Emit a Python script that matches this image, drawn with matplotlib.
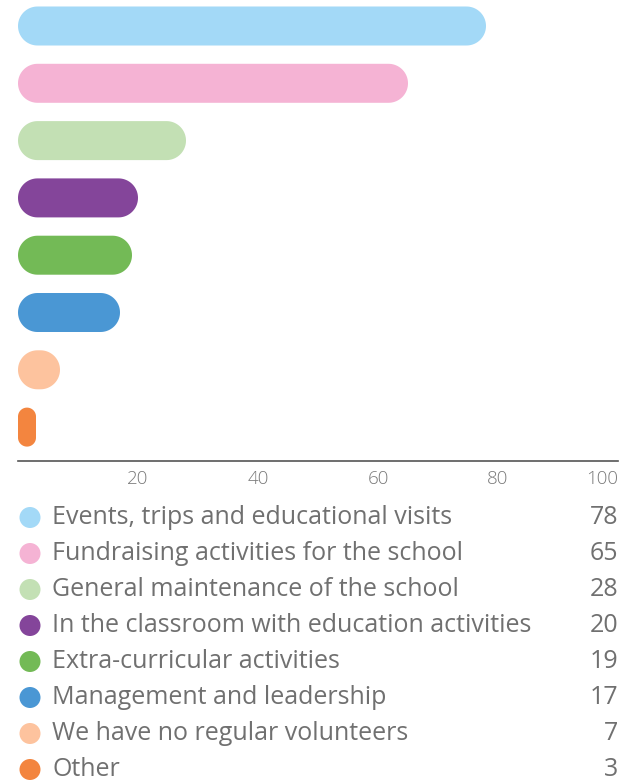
import numpy as np
import matplotlib.pyplot as plt
from matplotlib.patches import Polygon, Circle

categories = [
    "Events, trips and educational visits",
    "Fundraising activities for the school",
    "General maintenance of the school",
    "In the classroom with education activities",
    "Extra-curricular activities",
    "Management and leadership",
    "We have no regular volunteers",
    "Other",
]
values = [78, 65, 28, 20, 19, 17, 7, 3]
colors = ["#A3D9F7", "#F5B3D4", "#C3E0B4", "#84459A",
          "#73BA56", "#4A97D4", "#FDC39E", "#F3853F"]
ticks = [20, 40, 60, 80, 100]

W, H = 620, 783
plt.rcParams['font.family'] = ['Open Sans', 'DejaVu Sans']
fig = plt.figure(figsize=(W / 100, H / 100), dpi=100)

# bar panel, pixel layout measured from top
x0, x1 = 18, 618
top, bottom = 0, 461
first, step, bar_h = 26, 57.3, 39
ax = fig.add_axes([x0 / W, (H - bottom) / H, (x1 - x0) / W, (bottom - top) / H])
ax.set_xlim(0, 100)
ax.set_ylim((bottom - first) / step, (top - first) / step)

px_x = (x1 - x0) / 100.0          # pixels per x unit
aspect = px_x / step              # y units per x unit (same pixel length)


def pill(x, yc, w, hh_px):
    # rounded bar, corners radius = half the shorter side, drawn in x units
    hh = hh_px / px_x
    r = min(w, hh) / 2
    t = np.linspace(0, np.pi / 2, 20)
    pts = []
    for cx, cy, a0 in [(x + w - r, hh / 2 - r, 0), (x + r, hh / 2 - r, np.pi / 2),
                       (x + r, -hh / 2 + r, np.pi), (x + w - r, -hh / 2 + r, 1.5 * np.pi)]:
        pts += list(zip(cx + r * np.cos(a0 + t), cy + r * np.sin(a0 + t)))
    pts = np.array(pts)
    pts[:, 1] = yc + pts[:, 1] * aspect
    return pts


for i, (v, c) in enumerate(zip(values, colors)):
    ax.add_patch(Polygon(pill(0, i, v, bar_h), closed=True,
                         facecolor=c, edgecolor='none'))

for s in ['top', 'right', 'left']:
    ax.spines[s].set_visible(False)
ax.spines['bottom'].set_color('#555555')
ax.spines['bottom'].set_linewidth(1.2)
ax.set_yticks([])
ax.set_xticks(ticks)
ax.tick_params(axis='x', length=0, pad=6.5, labelsize=13.5, labelcolor='#7a7a7a')
for lab in ax.get_xticklabels():
    lab.set_fontweight('light')
ax.get_xticklabels()[-1].set_horizontalalignment('right')

# legend panel in pixel coordinates
lg = fig.add_axes([0, 0, 1, 1], facecolor='none')
lg.set_xlim(0, W)
lg.set_ylim(H, 0)
lg.axis('off')
row0, row_step = 517.5, 36
for i, (name, v, c) in enumerate(zip(categories, values, colors)):
    y = row0 + row_step * i
    lg.add_patch(Circle((30, y), 10.5, facecolor=c, edgecolor='none'))
    lg.text(52, y, name, fontsize=18, color='#707070', va='center', ha='left')
    lg.text(618, y, str(v), fontsize=18, color='#707070', va='center', ha='right')

fig.savefig('out.png', dpi=100)
